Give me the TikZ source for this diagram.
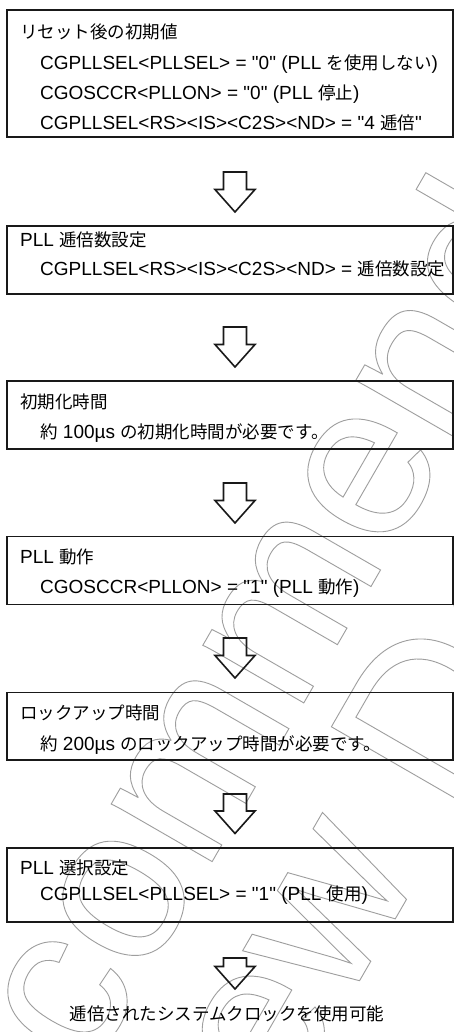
\documentclass[tikz,border=0pt]{standalone}
\usepackage{fontspec}
\setmainfont{Liberation Sans}[Ligatures=TeXOff]
\newfontfamily\jpfont{Noto Sans CJK JP}
\newcommand\J[1]{{\jpfont\fontsize{17.5}{20}\selectfont #1}}
\newcommand\wmon{\special{pdf:literal direct 1 Tr 0.9 w 0.62 G}}
\newcommand\wmoff{\special{pdf:literal direct 0 Tr 0 G}}
\begin{document}
\begin{tikzpicture}[x=1pt,y=-1pt,
  box/.style={draw=black!90, line width=1.3pt, minimum width=446pt, inner sep=0pt},
  txt/.style={anchor=base west, inner sep=0pt, font=\fontsize{19}{22}\selectfont},
  fin/.style={anchor=base, inner sep=0pt},
  arrowline/.style={draw=black!90, line width=1.6pt, line join=miter},
  wm/.style={anchor=base, inner sep=0pt, rotate=60, font=\fontsize{220}{240}\selectfont},
  hollowarrow/.pic={\draw[arrowline] (-11.5,0) -- (11.5,0) -- (11.5,#1) -- (20,#1) -- (0,{#1+22.5}) -- (-20,#1) -- (-11.5,#1) -- cycle;}
]
\useasboundingbox (0,0) rectangle (454,1032);
\fill[white] (0,0) rectangle (454,1032);

% watermark
\begin{scope}
\clip (0,0) rectangle (454,1032);
\node[wm] (wm1) at (220,848) {\wmon Not Recommended\wmoff};
\node[wm] (wm2) at (420,876) {\wmon for New Design\wmoff};
\end{scope}

% boxes
\node[box, minimum height=127pt] (b1) at (230,73.5) {};
\node[box, minimum height=68pt] (b2) at (230,260) {};
\node[box, minimum height=68pt] (b3) at (230,415) {};
\node[box, minimum height=67.6pt] (b4) at (230,570.5) {};
\node[box, minimum height=67.3pt] (b5) at (230,726.3) {};
\node[box, minimum height=74pt] (b6) at (230,885) {};

% texts
\node[txt] (t1) at (20,38.5) {\J{リセット後の初期値}};
\node[txt] (t1a) at (40,69.5) {CGPLLSEL<PLLSEL> = "0" (PLL \J{を使用しない})};
\node[txt] (t1b) at (40,99.5) {CGOSCCR<PLLON> = "0" (PLL \J{停止})};
\node[txt] (t1c) at (40,129.5) {CGPLLSEL<RS><IS><C2S><ND> = "4 \J{逓倍}"};

\node[txt] (t2) at (20,246) {PLL \J{逓倍数設定}};
\node[txt] (t2a) at (40,275) {CGPLLSEL<RS><IS><C2S><ND> = \J{逓倍数設定}};

\node[txt] (t3) at (20,408) {\J{初期化時間}};
\node[txt] (t3a) at (40,438) {\J{約} 100µs \J{の初期化時間が必要です。}};

\node[txt] (t4) at (20,563) {PLL \J{動作}};
\node[txt] (t4a) at (40,593) {CGOSCCR<PLLON> = "1" (PLL \J{動作})};

\node[txt] (t5) at (20,719) {\J{ロックアップ時間}};
\node[txt] (t5a) at (40,750) {\J{約} 200µs \J{のロックアップ時間が必要です。}};

\node[txt] (t6) at (20,874) {PLL \J{選択設定}};
\node[txt] (t6a) at (40,900) {CGPLLSEL<PLLSEL> = "1" (PLL \J{使用})};

\node[fin] (end) at (227,1020) {\J{逓倍されたシステムクロックを使用可能}};

% block arrows between the steps
\pic at (235,172) {hollowarrow=17.5};
\pic at (235,327) {hollowarrow=17.5};
\pic at (235,483) {hollowarrow=17.5};
\pic at (235,638) {hollowarrow=17.5};
\pic at (235,794) {hollowarrow=17};
\pic at (235,958) {hollowarrow=8.5};
\end{tikzpicture}
\end{document}
